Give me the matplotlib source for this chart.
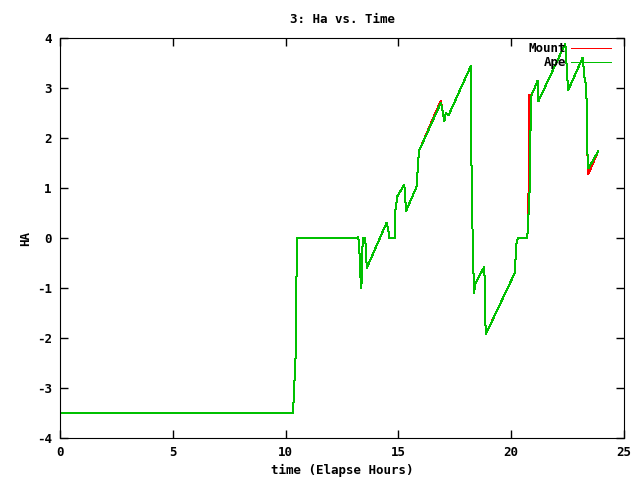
import matplotlib
matplotlib.use("Agg")
import matplotlib.pyplot as plt

# elapsed hours / hour angle
ape_time = [0, 10.33, 10.45, 10.5, 13.22, 13.22, 13.27, 13.31, 13.36, 13.40, 13.43,
            13.53, 13.56, 13.60, 14.48, 14.58, 14.58, 14.86, 14.86, 14.95, 15.26,
            15.34, 15.81, 15.88, 15.93, 16.89, 16.99, 17.04, 17.10, 17.22, 18.21,
            18.21, 18.29, 18.35, 18.42, 18.80, 18.83, 18.84, 18.88, 20.17, 20.21,
            20.29, 20.69, 20.73, 20.76, 20.83, 20.86, 20.90, 21.05, 21.17, 21.20,
            22.40, 22.49, 22.53, 23.17, 23.24, 23.30, 23.35, 23.37, 23.42, 23.86]
ape_ha = [-3.5, -3.5, -2.3, 0.0, 0.0, 0.03, -0.23, -0.73, -1.0, -0.25, 0.0,
          0.0, -0.3, -0.6, 0.31, 0.09, 0.0, 0.0, 0.53, 0.83, 1.07,
          0.54, 1.03, 1.56, 1.76, 2.71, 2.46, 2.34, 2.50, 2.45, 3.44,
          2.31, 0.03, -1.1, -0.9, -0.58, -0.9, -1.57, -1.92, -0.69, -0.17,
          0.0, 0.0, 0.1, 0.4, 1.09, 2.33, 2.86, 3.01, 3.15, 2.73,
          3.89, 3.19, 2.96, 3.61, 3.23, 3.1, 2.7, 1.76, 1.39, 1.74]

mount_time = [0, 10.33, 10.45, 10.5, 13.22, 13.22, 13.27, 13.31, 13.36, 13.40, 13.43,
              13.53, 13.56, 13.60, 14.48, 14.58, 14.58, 14.86, 14.86, 14.95, 15.26,
              15.34, 15.81, 15.88, 15.93, 16.88, 16.99, 17.04, 17.10, 17.22, 18.21,
              18.21, 18.29, 18.35, 18.42, 18.80, 18.83, 18.84, 18.88, 19.35, 20.17,
              20.21, 20.29, 20.69, 20.73, 20.76, 20.78, 20.80, 20.90, 21.05, 21.17,
              21.20, 22.40, 22.49, 22.53, 23.17, 23.24, 23.30, 23.35, 23.37, 23.42,
              23.86]
mount_ha = [-3.5, -3.5, -2.3, 0.0, 0.0, 0.03, -0.23, -0.73, -1.0, -0.25, 0.0,
            0.0, -0.3, -0.6, 0.31, 0.09, 0.0, 0.0, 0.53, 0.83, 1.07,
            0.54, 1.03, 1.56, 1.76, 2.75, 2.46, 2.34, 2.50, 2.45, 3.44,
            2.31, 0.03, -1.1, -0.9, -0.58, -0.9, -1.57, -1.92, -1.47, -0.69,
            -0.17, 0.0, 0.0, 0.1, 0.4, 1.8, 2.86, 2.86, 3.01, 3.15,
            2.73, 3.89, 3.19, 2.96, 3.61, 3.23, 3.1, 2.7, 1.76, 1.28,
            1.74]

x_ticks = [0, 5, 10, 15, 20, 25]
y_ticks = [-4, -3, -2, -1, 0, 1, 2, 3, 4]

plt.rcParams["font.family"] = "DejaVu Sans Mono"
plt.rcParams["font.weight"] = "bold"
plt.rcParams["font.size"] = 9
plt.rcParams["axes.unicode_minus"] = False

fig = plt.figure(figsize=(6.4, 4.8), dpi=100)
ax = fig.add_axes([60 / 640, 42 / 480, 564 / 640, 400 / 480])

ax.plot(mount_time, mount_ha, color="#ff0000", lw=0.72, label="Mount", antialiased=False)
ax.plot(ape_time, ape_ha, color="#00c000", lw=0.72, label="Ape", antialiased=False)

ax.set_xlim(0, 25)
ax.set_ylim(-4, 4)
ax.set_xticks(x_ticks)
ax.set_yticks(y_ticks)
ax.tick_params(direction="in", length=6, width=1, top=True, right=True, pad=6)

ax.set_title("3: Ha vs. Time", fontsize=9, fontweight="bold", pad=11)
ax.set_xlabel("time (Elapse Hours)", fontweight="bold", labelpad=3)
ax.set_ylabel("HA", fontweight="bold", labelpad=3)

ax.legend(loc="upper right", bbox_to_anchor=(0.993, 1.012), frameon=False,
          markerfirst=False, handlelength=3.2, handletextpad=0.4,
          labelspacing=0.1, borderaxespad=0.3)

fig.savefig("out.png", dpi=100)
